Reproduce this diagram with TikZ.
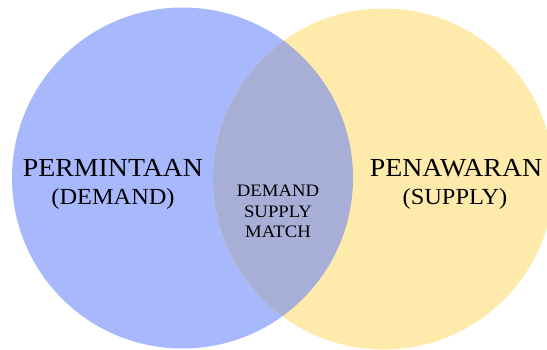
\documentclass[tikz,border=0pt]{standalone}
\usepackage{fontspec}
\setmainfont{Liberation Serif}
\definecolor{demandblue}{RGB}{168,184,252}
\definecolor{supplyyellow}{RGB}{254,235,171}
\definecolor{matchgrey}{RGB}{168,175,214}
\tikzset{
  setcircle/.style={circle, minimum size=341pt, inner sep=0pt},
  bigtext/.style={anchor=base, font=\fontsize{26}{29}\selectfont, xscale=1.07, text=black},
  subtext/.style={anchor=base, font=\fontsize{23}{26}\selectfont, xscale=1.06, text=black},
  midtext/.style={anchor=base, font=\fontsize{17.5}{20}\selectfont, xscale=1.07, text=black, align=center}
}
\begin{document}
\begin{tikzpicture}[x=1pt,y=-1pt]
\useasboundingbox (0,0) rectangle (547,350);
\clip (0,0) rectangle (547,350);
\node[setcircle, fill=demandblue] (demandc) at (182.5,178) {};
\node[setcircle, fill=supplyyellow] (supplyc) at (383.5,179) {};
\begin{scope}
  \clip (182.5,178) circle (170.5);
  \fill[matchgrey] (383.5,179) circle (170.5);
\end{scope}
\node[bigtext] (perm) at (113,177) {PERMINTAAN};
\node[subtext] (dem) at (113,205) {(DEMAND)};
\node[bigtext] (pen) at (456,177) {PENAWARAN};
\node[subtext] (sup) at (455,205) {(SUPPLY)};
\node[midtext] (m1) at (278,197) {DEMAND};
\node[midtext] (m2) at (278,218) {SUPPLY};
\node[midtext] (m3) at (278,238) {MATCH};
\end{tikzpicture}
\end{document}
